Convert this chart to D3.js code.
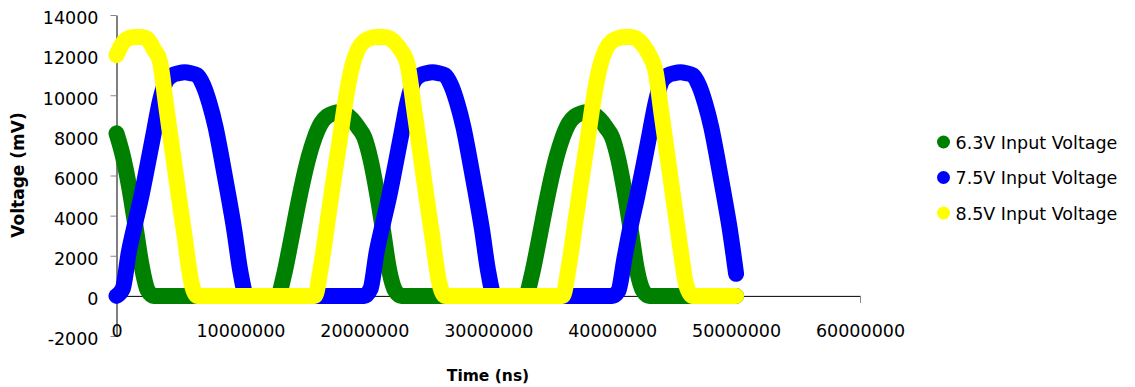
<!DOCTYPE html>
<meta charset="utf-8">
<script src="https://d3js.org/d3.v7.min.js"></script>
<style>
    body { margin: 0; background: #fff; }
    .tick text { font-family: "DejaVu Sans", sans-serif; font-size: 17.5px; fill: #000; }
</style>

<div id="chart"></div>

<script>
// time in units of 1,000,000 ns
const timeMns = [0, 0.5, 1, 1.5, 2, 2.5, 3, 3.5, 4, 4.5, 5, 5.5, 6, 6.5, 7, 7.5, 8, 8.5, 9, 9.5,
    10, 10.5, 11, 11.5, 12, 12.5, 13, 13.5, 14, 14.5, 15, 15.5, 16, 16.5, 17, 17.5, 18, 18.5, 19, 19.5,
    20, 20.5, 21, 21.5, 22, 22.5, 23, 23.5, 24, 24.5, 25, 25.5, 26, 26.5, 27, 27.5, 28, 28.5, 29, 29.5,
    30, 30.5, 31, 31.5, 32, 32.5, 33, 33.5, 34, 34.5, 35, 35.5, 36, 36.5, 37, 37.5, 38, 38.5, 39, 39.5,
    40, 40.5, 41, 41.5, 42, 42.5, 43, 43.5, 44, 44.5, 45, 45.5, 46, 46.5, 47, 47.5, 48, 48.5, 49, 49.5, 50];

// voltage in mV
const v63 = [8100, 7000, 5500, 3600, 1600, 300, 0, 0, 0, 0, 0, 0, 0, 0, 0, 0, 0, 0, 0, 0,
    0, 0, 0, 0, 0, 0, 0, 1000, 2500, 4100, 5600, 6900, 7900, 8600, 8950, 9100, 9150, 9050, 8800, 8400,
    7900, 6800, 5200, 3300, 1300, 250, 0, 0, 0, 0, 0, 0, 0, 0, 0, 0, 0, 0, 0, 0,
    0, 0, 0, 0, 0, 0, 0, 1000, 2500, 4100, 5600, 6900, 7900, 8600, 8950, 9100, 9150, 9050, 8800, 8400,
    7900, 6800, 5200, 3300, 1300, 250, 0, 0, 0, 0, 0, 0, 0, 0, 0, 0, 0, 0, 0, 0, 0];

const v75 = [0, 350, 2200, 3600, 4950, 6500, 8100, 9700, 10700, 11000, 11100, 11150, 11100, 11000, 10500, 9600, 8400, 6800, 5100, 3300,
    1200, 0, 0, 0, 0, 0, 0, 0, 0, 0, 0, 0, 0, 0, 0, 0, 0, 0, 0, 0,
    0, 350, 2200, 3600, 4950, 6500, 8100, 9700, 10700, 11000, 11100, 11150, 11100, 11000, 10500, 9600, 8400, 6800, 5100, 3300,
    1200, 0, 0, 0, 0, 0, 0, 0, 0, 0, 0, 0, 0, 0, 0, 0, 0, 0, 0, 0,
    0, 250, 1900, 3500, 4900, 6400, 8000, 9600, 10700, 11000, 11100, 11150, 11100, 11000, 10500, 9600, 8400, 6800, 5100, 3300, 1100];

const v85 = [12000, 12600, 12850, 12900, 12900, 12800, 12300, 11700, 9500, 7300, 5100, 2950, 800, 0, 0, 0, 0, 0, 0, 0,
    0, 0, 0, 0, 0, 0, 0, 0, 0, 0, 0, 0, 0, 1450, 3550, 5700, 7700, 9800, 11400, 12300,
    12700, 12850, 12900, 12900, 12850, 12600, 12200, 11500, 9400, 7200, 5000, 2900, 800, 0, 0, 0, 0, 0, 0, 0,
    0, 0, 0, 0, 0, 0, 0, 0, 0, 0, 0, 0, 0, 1450, 3550, 5700, 7700, 9800, 11400, 12300,
    12700, 12850, 12900, 12900, 12800, 12500, 12000, 11200, 9000, 6800, 4600, 2400, 500, 0, 0, 0, 0, 0, 0, 0, 0];

const seriesNames = ["6.3V Input Voltage", "7.5V Input Voltage", "8.5V Input Voltage"];
const seriesColors = ["#008000", "#0000ff", "#ffff00"];
const seriesValues = [v63, v75, v85];

const xTicks = [0, 10000000, 20000000, 30000000, 40000000, 50000000, 60000000];
const yTicks = [-2000, 0, 2000, 4000, 6000, 8000, 10000, 12000, 14000];

const margin = {top: 15, right: 275, bottom: 51, left: 116.5},
      width = 1135 - margin.left - margin.right,
      height = 387 - margin.top - margin.bottom;

const root = d3.select("#chart")
    .append("svg")
    .attr("width", 1135)
    .attr("height", 387);

const svg = root.append("g")
    .attr("transform", `translate(${margin.left}, ${margin.top})`);

const x = d3.scaleLinear()
    .domain([0, 60000000])
    .range([0, width]);

const y = d3.scaleLinear()
    .domain([-2000, 14000])
    .range([height, 0]);

// plain numbers, hyphen for negatives (no grouping commas)
const plain = d => String(d);

// y axis
const yAxis = svg.append("g")
    .call(d3.axisLeft(y).tickValues(yTicks).tickSize(6).tickSizeOuter(0).tickPadding(12).tickFormat(plain));
yAxis.select(".domain").attr("stroke", "#000");
yAxis.selectAll(".tick line").attr("stroke", "#868686");
yAxis.selectAll(".tick text").attr("dy", "0.5em");

// x axis crosses at 0
const xAxis = svg.append("g")
    .attr("transform", `translate(0, ${y(0)})`)
    .call(d3.axisBottom(x).tickValues(xTicks).tickSize(7).tickSizeOuter(0).tickPadding(22).tickFormat(plain));
xAxis.select(".domain").attr("stroke", "#000");
xAxis.selectAll(".tick line").attr("stroke", "#868686");

// lines
const line = d3.line()
    .x((d, i) => x(timeMns[i] * 1000000))
    .y(d => y(d))
    .curve(d3.curveMonotoneX);

svg.append("g")
    .selectAll("path")
    .data(seriesValues)
    .join("path")
    .attr("d", d => line(d))
    .attr("fill", "none")
    .attr("stroke", (d, i) => seriesColors[i])
    .attr("stroke-width", 16)
    .attr("stroke-linecap", "round")
    .attr("stroke-linejoin", "round");

// axis titles
root.append("text")
    .text("Voltage (mV)")
    .attr("transform", "translate(24, 175) rotate(-90)")
    .attr("text-anchor", "middle")
    .attr("font-family", "DejaVu Sans, sans-serif")
    .attr("font-weight", "bold")
    .attr("font-size", "17px");

root.append("text")
    .text("Time (ns)")
    .attr("x", 488)
    .attr("y", 381)
    .attr("text-anchor", "middle")
    .attr("font-family", "DejaVu Sans, sans-serif")
    .attr("font-weight", "bold")
    .attr("font-size", "15.5px");

// legend
const legend = root.append("g")
    .selectAll("g")
    .data(seriesNames)
    .join("g")
    .attr("transform", (d, i) => `translate(943.5, ${142 + i * 35.5})`);

legend.append("circle")
    .attr("r", 6.5)
    .attr("fill", (d, i) => seriesColors[i]);

legend.append("text")
    .text(d => d)
    .attr("x", 12)
    .attr("y", 6.5)
    .attr("font-family", "DejaVu Sans, sans-serif")
    .attr("font-size", "17.5px");
</script>
